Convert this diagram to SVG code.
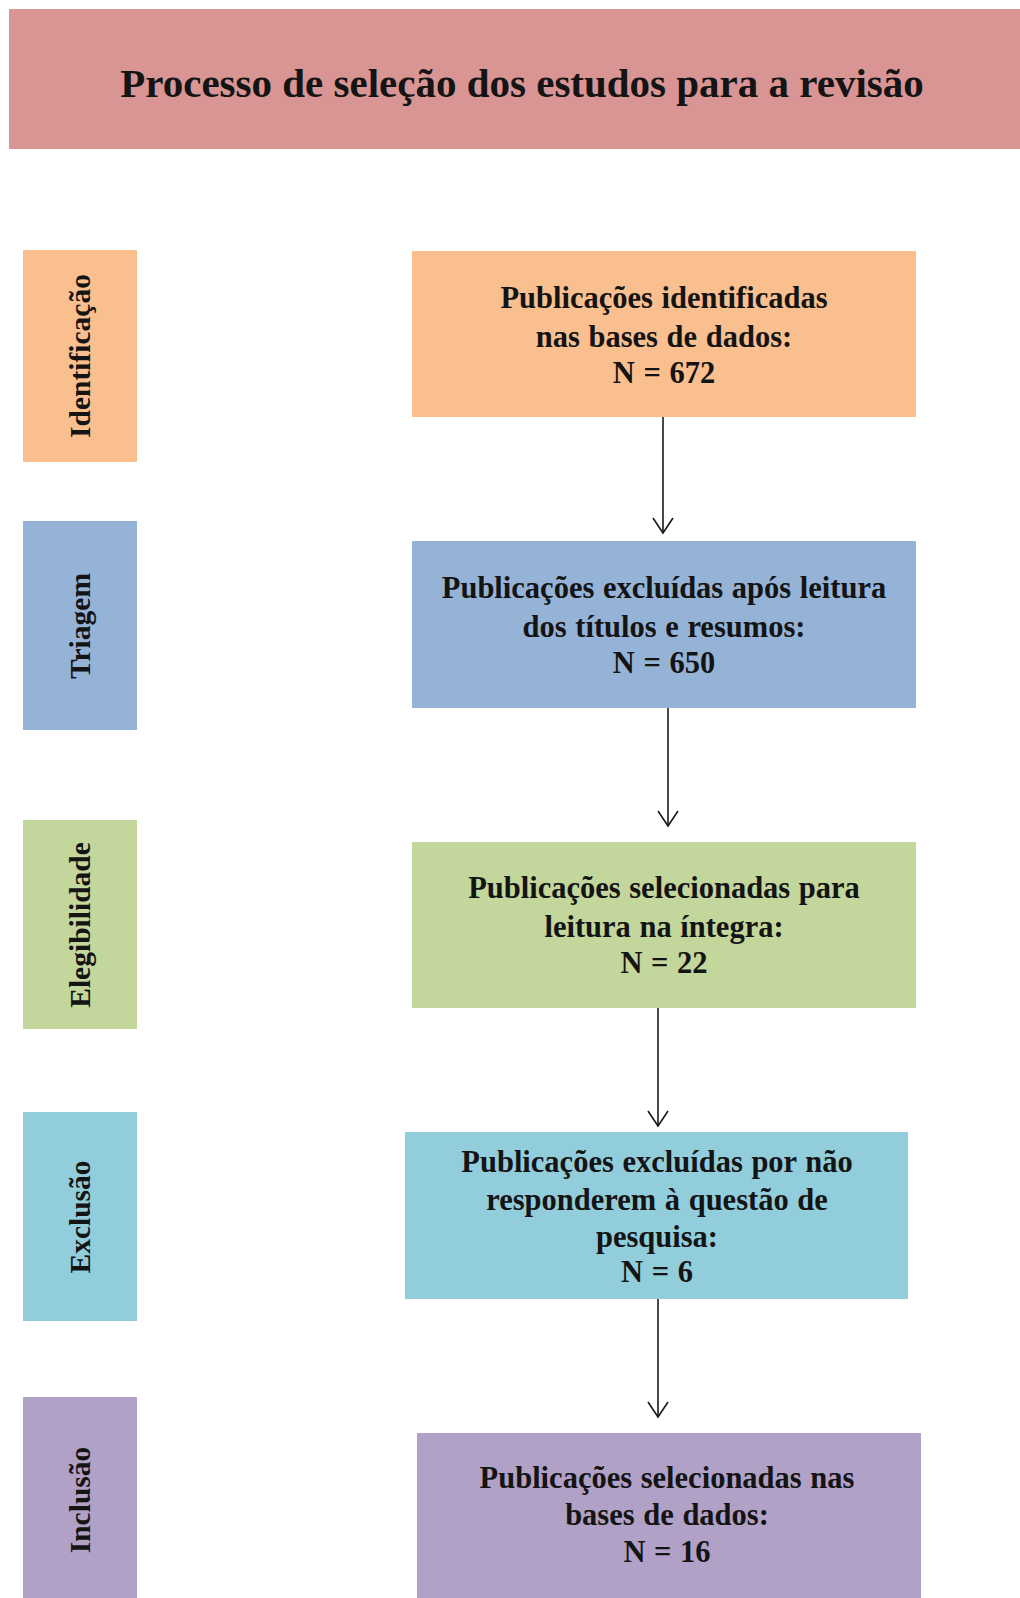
<svg xmlns="http://www.w3.org/2000/svg" width="1020" height="1598" viewBox="0 0 1020 1598">
<style>
text{font-family:"Liberation Serif","Times New Roman",serif;font-weight:bold;fill:#141414;text-anchor:middle}
.t{font-size:30.5px;word-spacing:1px}
.lab{font-size:29.5px}
.ttl{font-size:41px}
.conn line{stroke:#1a1a1a;stroke-width:1.6;fill:none}
.conn path{stroke:#1a1a1a;stroke-width:1.6;fill:none}
</style>
<rect width="1020" height="1598" fill="#ffffff"/>
<g id="title">
<rect x="9" y="9" width="1011" height="140" fill="#D99594"/>
<text class="ttl" x="522" y="97">Processo de seleção dos estudos para a revisão</text>
</g>
<g id="lab-identificacao">
<rect x="23" y="250" width="114" height="212" fill="#FABF8F"/>
<text class="lab" transform="translate(90,356) rotate(-90)">Identificação</text>
</g>
<g id="lab-triagem">
<rect x="23" y="521" width="114" height="209" fill="#95B3D7"/>
<text class="lab" transform="translate(90,626) rotate(-90)">Triagem</text>
</g>
<g id="lab-elegibilidade">
<rect x="23" y="820" width="114" height="209" fill="#C3D69B"/>
<text class="lab" transform="translate(90,925) rotate(-90)">Elegibilidade</text>
</g>
<g id="lab-exclusao">
<rect x="23" y="1112" width="114" height="209" fill="#92CDDC"/>
<text class="lab" transform="translate(90,1217) rotate(-90)">Exclusão</text>
</g>
<g id="lab-inclusao">
<rect x="23" y="1397" width="114" height="201" fill="#B2A1C7"/>
<text class="lab" transform="translate(90,1500) rotate(-90)">Inclusão</text>
</g>
<g id="box1">
<rect x="412" y="251" width="504" height="166" fill="#FABF8F"/>
<text class="t" x="664" y="308">Publicações identificadas</text>
<text class="t" x="664" y="347">nas bases de dados:</text>
<text class="t" x="664" y="383">N = 672</text>
</g>
<g id="box2">
<rect x="412" y="541" width="504" height="167" fill="#95B3D7"/>
<text class="t" x="664" y="598">Publicações excluídas após leitura</text>
<text class="t" x="664" y="637">dos títulos e resumos:</text>
<text class="t" x="664" y="673">N = 650</text>
</g>
<g id="box3">
<rect x="412" y="842" width="504" height="166" fill="#C3D69B"/>
<text class="t" x="664" y="898">Publicações selecionadas para</text>
<text class="t" x="664" y="937">leitura na íntegra:</text>
<text class="t" x="664" y="973">N = 22</text>
</g>
<g id="box4">
<rect x="405" y="1132" width="503" height="167" fill="#92CDDC"/>
<text class="t" x="657" y="1172">Publicações excluídas por não</text>
<text class="t" x="657" y="1210">responderem à questão de</text>
<text class="t" x="657" y="1247">pesquisa:</text>
<text class="t" x="657" y="1282">N = 6</text>
</g>
<g id="box5">
<rect x="417" y="1433" width="504" height="165" fill="#B2A1C7"/>
<text class="t" x="667" y="1488">Publicações selecionadas nas</text>
<text class="t" x="667" y="1525">bases de dados:</text>
<text class="t" x="667" y="1562">N = 16</text>
</g>
<g id="connectors" class="conn">
<line x1="663" y1="417" x2="663" y2="533"/>
<path d="M653,518 L663,533 L673,518"/>
<line x1="668" y1="708" x2="668" y2="826"/>
<path d="M658,811 L668,826 L678,811"/>
<line x1="658" y1="1008" x2="658" y2="1126"/>
<path d="M648,1111 L658,1126 L668,1111"/>
<line x1="658" y1="1299" x2="658" y2="1417"/>
<path d="M648,1402 L658,1417 L668,1402"/>
</g>
</svg>
